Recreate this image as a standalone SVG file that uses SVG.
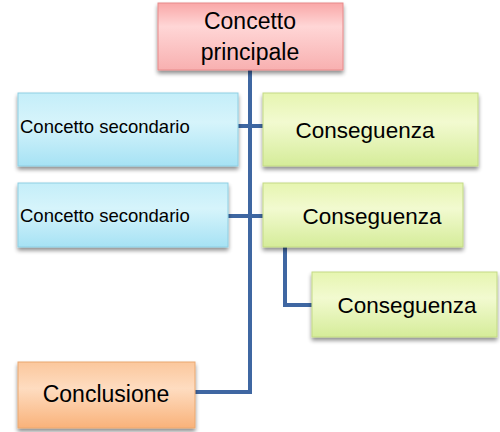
<svg xmlns="http://www.w3.org/2000/svg" width="500" height="432" viewBox="0 0 500 432">
<defs>
<linearGradient id="gPink" x1="0" y1="0" x2="0" y2="1"><stop offset="0" stop-color="#f9a7a7"/><stop offset="0.35" stop-color="#ffd6d6"/><stop offset="1" stop-color="#f8b0b0"/></linearGradient>
<linearGradient id="gBlue" x1="0" y1="0" x2="0" y2="1"><stop offset="0" stop-color="#c4eef9"/><stop offset="0.4" stop-color="#d6f4fb"/><stop offset="1" stop-color="#a6e2f4"/></linearGradient>
<linearGradient id="gGreen" x1="0" y1="0" x2="0" y2="1"><stop offset="0" stop-color="#e6f5b0"/><stop offset="0.4" stop-color="#f2fad0"/><stop offset="1" stop-color="#d5ec99"/></linearGradient>
<linearGradient id="gOrange" x1="0" y1="0" x2="0" y2="1"><stop offset="0" stop-color="#fbc79c"/><stop offset="0.4" stop-color="#fedcc0"/><stop offset="1" stop-color="#f9b27a"/></linearGradient>
<filter id="sh" x="-10%" y="-10%" width="125%" height="135%"><feGaussianBlur in="SourceAlpha" stdDeviation="2"/><feOffset dx="0" dy="3" result="b"/><feComponentTransfer><feFuncA type="linear" slope="0.45"/></feComponentTransfer><feMerge><feMergeNode/><feMergeNode in="SourceGraphic"/></feMerge></filter>
</defs>
<style>
text{font-family:"Liberation Sans",Arial,sans-serif;fill:#000}
.box{filter:url(#sh);stroke-width:1}
.pink{fill:url(#gPink);stroke:#e88a8a}
.blue{fill:url(#gBlue);stroke:#8fcfe3}
.green{fill:url(#gGreen);stroke:#c3da85}
.orange{fill:url(#gOrange);stroke:#eaa870}
.conn{fill:none;stroke:#3f67a2;stroke-width:4}
</style>
<rect width="500" height="432" fill="#ffffff"/>
<g id="connectors">
<path class="conn" d="M250 70 V392 H195"/>
<path class="conn" d="M238 126 H263"/>
<path class="conn" d="M228 216 H263"/>
<path class="conn" d="M285 247 V305 H312"/>
</g>
<g id="main">
<rect class="box pink" x="158" y="3" width="185" height="67"/>
<text x="250" y="29" font-size="23" text-anchor="middle">Concetto</text>
<text x="250" y="60" font-size="23" text-anchor="middle">principale</text>
</g>
<g id="secondario1">
<rect class="box blue" x="18" y="93" width="220" height="73"/>
<text x="20" y="133" font-size="18.5">Concetto secondario</text>
</g>
<g id="conseguenza1">
<rect class="box green" x="263" y="93" width="215" height="73"/>
<text x="365" y="138" font-size="22.5" text-anchor="middle">Conseguenza</text>
</g>
<g id="secondario2">
<rect class="box blue" x="18" y="183" width="210" height="64"/>
<text x="20" y="222" font-size="18.5">Concetto secondario</text>
</g>
<g id="conseguenza2">
<rect class="box green" x="263" y="183" width="200" height="64"/>
<text x="372" y="224" font-size="22.5" text-anchor="middle">Conseguenza</text>
</g>
<g id="conseguenza3">
<rect class="box green" x="312" y="272" width="185" height="65"/>
<text x="407" y="313" font-size="22.5" text-anchor="middle">Conseguenza</text>
</g>
<g id="conclusione">
<rect class="box orange" x="18" y="362" width="177" height="66"/>
<text x="106" y="402" font-size="23" text-anchor="middle">Conclusione</text>
</g>
</svg>
